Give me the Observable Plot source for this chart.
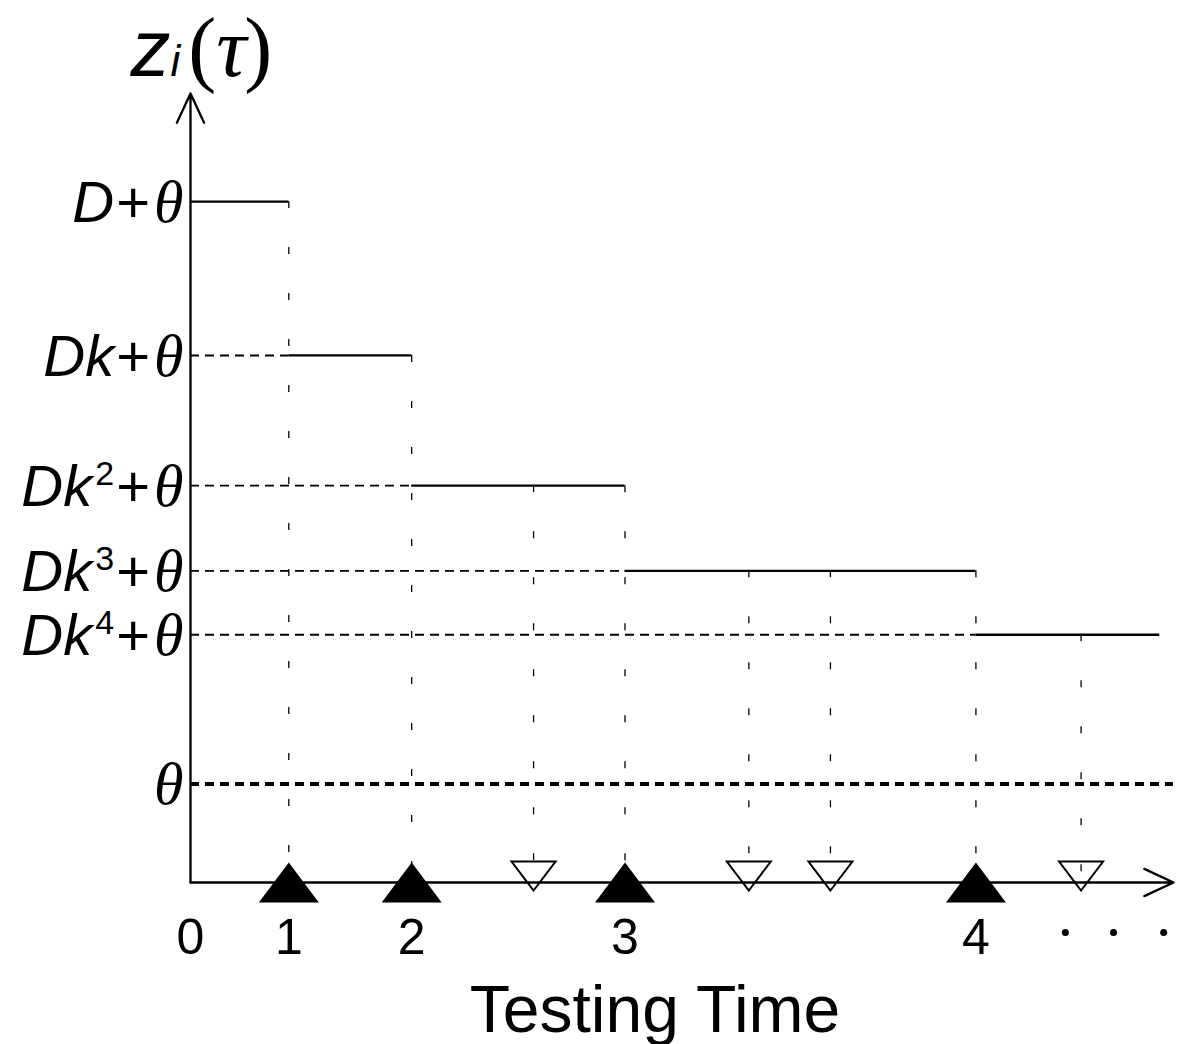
<!DOCTYPE html>
<html><head><meta charset="utf-8">
<script src="https://cdn.jsdelivr.net/npm/d3@7"></script>
<script src="https://cdn.jsdelivr.net/npm/@observablehq/plot@0.6"></script>
<style>body{margin:0;background:#fff}</style>
</head><body><div id="chart"></div>
<script>
// ---- data ----
const levelLabels = ["D+θ", "Dk+θ", "Dk²+θ", "Dk³+θ", "Dk⁴+θ"];
const levelValues = [86.3, 66.8, 50.3, 39.5, 31.4];
const thetaLabel = "θ";
const thetaValue = 12.5;
const testTimes = [10.0, 22.5, 44.2, 79.9];      // filled triangles (tests 1..4)
const failTimes = [34.9, 56.8, 65.1, 90.6];      // open triangles
const failLevelIndex = [2, 3, 3, 4];             // level in force at each open triangle
const endTime = 98.6;
const tickLabels = ["0", "1", "2", "3", "4"];
const ellipsisTimes = [89.0, 93.9, 99.0];
const yLabel = "zi(τ)";
const xLabel = "Testing Time";

// ---- derived tables ----
const starts = [0, ...testTimes];
const ends = [...testTimes, endTime];
const steps = levelLabels.map((label, i) => ({label, value: levelValues[i], start: starts[i], end: ends[i]}));
const verticals = [
  ...testTimes.map((t, i) => ({x: t, top: levelValues[i]})),
  ...failTimes.map((t, i) => ({x: t, top: levelValues[failLevelIndex[i]]}))
];
const ticks = tickLabels.map((l, i) => ({x: starts[i], label: l}));

const triUp = {draw(ctx, size) {
  const r = Math.sqrt(size / Math.PI), h = r * 2 / 3;
  ctx.moveTo(0, -h); ctx.lineTo(r, h); ctx.lineTo(-r, h); ctx.closePath();
}};
const triDown = {draw(ctx, size) {
  const r = Math.sqrt(size / Math.PI), h = r * 0.66;
  ctx.moveTo(0, h); ctx.lineTo(r, -h); ctx.lineTo(-r, -h); ctx.closePath();
}};

const SANS = "'Liberation Sans', Arial, Helvetica, sans-serif";
const SERIF = "'Liberation Serif', 'Times New Roman', serif";

const svg = Plot.plot({
  width: 1177, height: 1044,
  marginLeft: 190, marginRight: 4, marginTop: 93, marginBottom: 162,
  x: {domain: [0, 100], axis: null},
  y: {domain: [0, 100], axis: null},
  style: {fontFamily: SANS, background: "#fff", color: "#000", overflow: "visible"},
  marks: [
    Plot.ruleY([thetaValue], {x1: 0, x2: 100, stroke: "#000", strokeWidth: 4, strokeDasharray: "9,6"}),
    Plot.ruleY(steps.slice(1), {y: "value", x1: 0, x2: "start", stroke: "#000", strokeWidth: 1.9, strokeDasharray: "9,6"}),
    Plot.ruleX(verticals, {x: "x", y1: "top", y2: 0, stroke: "#000", strokeWidth: 1.3, strokeDasharray: "7,39"}),
    Plot.ruleY(steps, {y: "value", x1: "start", x2: "end", stroke: "#000", strokeWidth: 2.3}),
    Plot.arrow([{x1: 0, y1: 0, x2: 0, y2: 100}, {x1: 0, y1: 0, x2: 100, y2: 0}],
      {x1: "x1", y1: "y1", x2: "x2", y2: "y2", stroke: "#000", strokeWidth: 2.3, headLength: 21, headAngle: 50}),
    Plot.dot(testTimes, {x: d => d, y: () => 0, r: 30, symbol: triUp, fill: "#000", stroke: "none"}),
    Plot.dot(failTimes, {x: d => d, y: () => 0, r: 22, symbol: triDown, fill: "none", stroke: "#000", strokeWidth: 2, dy: -6.5}),
    Plot.dot(ellipsisTimes, {x: d => d, frameAnchor: "bottom", dy: 50, r: 3.5, fill: "#000", stroke: "none"}),
    Plot.text(ticks, {x: "x", text: "label", frameAnchor: "bottom", lineAnchor: "bottom", dy: 71, fontSize: 50, fill: "#000"}),
    Plot.text([xLabel], {frameAnchor: "bottom", lineAnchor: "bottom", dx: -27, dy: 149, fontSize: 66, fill: "#000"}),
    Plot.text(steps, {x: 0, y: "value", text: "label", textAnchor: "end", lineAnchor: "bottom", dx: -7, dy: 20.5, fontSize: 58, fill: "#000"}),
    Plot.text([thetaLabel], {x: 0, y: () => thetaValue, textAnchor: "end", lineAnchor: "bottom", dx: -7, dy: 20.5, fontSize: 58, fill: "#000"}),
    Plot.text([yLabel], {frameAnchor: "top-left", textAnchor: "start", lineAnchor: "bottom", dx: -60, dy: -18, fontSize: 80, fill: "#000"})
  ]
});
document.getElementById("chart").append(svg);

// ---- rich text (italics, superscripts, Greek in serif) ----
const NS = "http://www.w3.org/2000/svg";
const supMap = {"²": "2", "³": "3", "⁴": "4"};
function span(t, txt, attrs) {
  const ts = document.createElementNS(NS, "tspan");
  ts.textContent = txt;
  for (const k in attrs) ts.setAttribute(k, attrs[k]);
  t.append(ts);
}
function richLevel(t) {
  const s = t.textContent; t.textContent = "";
  let shift = 0;
  for (const ch of s) {
    const a = {};
    if (supMap[ch]) {
      Object.assign(a, {"font-size": 34, "font-style": "normal", dy: -21, dx: 3}); shift = 21;
      span(t, supMap[ch], a); continue;
    }
    if (shift) { a.dy = shift; shift = 0; }
    if (ch === "θ") Object.assign(a, {"font-family": SERIF, "font-style": "italic", "font-size": 60, dx: s.length > 1 ? 4 : 0});
    else if (ch === "+") Object.assign(a, {"font-style": "normal", dx: 2});
    else Object.assign(a, {"font-style": "italic"});
    span(t, ch, a);
  }
}
function richTitle(t) {
  t.textContent = "";
  span(t, "z", {"font-style": "italic", "font-size": 80});
  span(t, "i", {"font-style": "italic", "font-size": 44});
  span(t, "(", {"font-family": SERIF, "font-size": 84, dx: 8});
  span(t, "τ", {"font-family": SERIF, "font-style": "italic", "font-size": 84});
  span(t, ")", {"font-family": SERIF, "font-size": 84, dx: -2});
}
svg.querySelectorAll("text").forEach(t => {
  const s = t.textContent;
  if (levelLabels.includes(s) || s === thetaLabel) richLevel(t);
  else if (s === yLabel) richTitle(t);
});
</script>
</body></html>
